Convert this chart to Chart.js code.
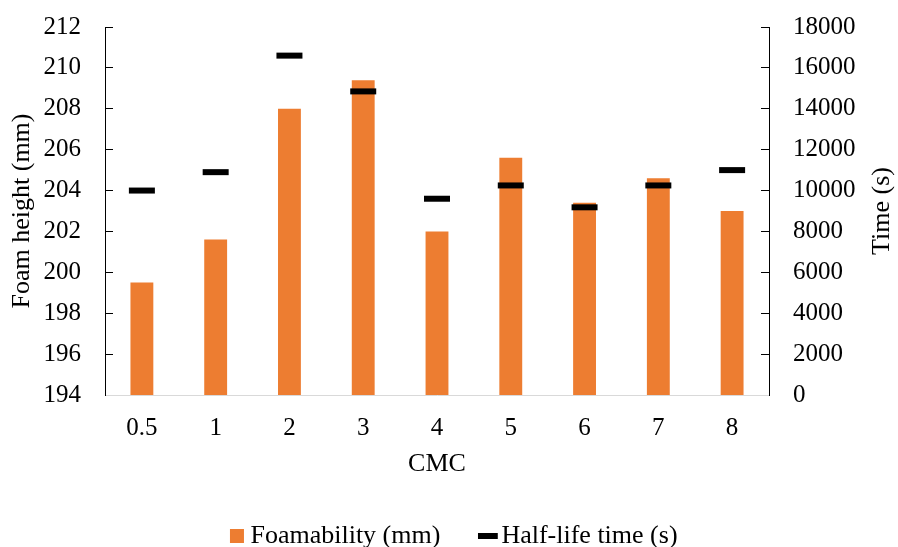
<!DOCTYPE html>
<html>
<head>
<meta charset="utf-8">
<script src="https://cdn.jsdelivr.net/npm/chart.js@4"></script>
<style>
  html, body { margin: 0; padding: 0; background: #fff; }
  #wrap { width: 898px; height: 547px; }
</style>
</head>
<body>
<div id="wrap"><canvas id="foamChart" width="898" height="547"></canvas></div>
<script>
// CMC concentrations (x categories)
const cmcLabels = ['0.5', '1', '2', '3', '4', '5', '6', '7', '8'];
// Foam height in mm (left axis)
const foamability = [199.5, 201.6, 208.0, 209.4, 202.0, 205.6, 203.4, 204.6, 203.0];
// Half-life time in s (right axis)
const halfLife = [10000, 10900, 16600, 14850, 9600, 10250, 9180, 10250, 11000];

// Axis ranges
const leftMin = 194, leftMax = 212, leftStep = 2;
const rightMin = 0, rightMax = 18000, rightStep = 2000;
const rightTitle = 'Time (s)';

Chart.defaults.font.family = "'Liberation Serif', 'Times New Roman', serif";
Chart.defaults.color = '#000';

// right axis title reads bottom-to-top like the left one, chart.js rotates it the other way
const rightTitlePlugin = {
  id: 'rightTitle',
  afterDraw(chart) {
    const c = chart.ctx;
    const area = chart.chartArea;
    c.save();
    c.translate(chart.scales.y1.right - 5, (area.top + area.bottom) / 2);
    c.rotate(-Math.PI / 2);
    c.font = "26px 'Liberation Serif', 'Times New Roman', serif";
    c.fillStyle = '#000';
    c.textAlign = 'center';
    c.textBaseline = 'middle';
    c.fillText(rightTitle, 0, 0);
    c.restore();
  }
};

// big tick padding would otherwise push the plot area down
function noVertPadding(scale) {
  scale.paddingTop = 0;
  scale.paddingBottom = 0;
}

const ctx = document.getElementById('foamChart').getContext('2d');

new Chart(ctx, {
  type: 'bar',
  data: {
    labels: cmcLabels,
    datasets: [{
      label: 'Foamability (mm)',
      data: foamability,
      backgroundColor: '#ED7D31',
      borderWidth: 0,
      categoryPercentage: 1,
      barPercentage: 0.31,
      pointStyle: 'rect',
      yAxisID: 'y',
      order: 1
    }, {
      type: 'line',
      label: 'Half-life time (s)',
      data: halfLife,
      showLine: false,
      borderColor: '#000',
      backgroundColor: '#000',
      borderWidth: 6,
      pointStyle: 'line',
      pointRadius: 13,
      pointHoverRadius: 13,
      pointBorderWidth: 6,
      pointBorderColor: '#000',
      yAxisID: 'y1',
      order: 0
    }]
  },
  options: {
    responsive: false,
    animation: false,
    layout: {
      padding: { top: 27, left: 26.5, right: 10.5, bottom: -12 }
    },
    scales: {
      x: {
        grid: { display: false, drawTicks: false },
        border: { display: true, color: '#D9D9D9', width: 1 },
        ticks: { font: { size: 25 }, padding: 18, color: '#000' },
        title: {
          display: true,
          text: 'CMC',
          font: { size: 26 },
          padding: { top: -12.6, bottom: -3.6 }
        }
      },
      y: {
        position: 'left',
        min: leftMin,
        max: leftMax,
        afterFit: noVertPadding,
        ticks: { stepSize: leftStep, font: { size: 25 }, padding: 32, color: '#000' },
        grid: { drawOnChartArea: false, tickLength: -8, tickColor: '#000' },
        border: { color: '#000', width: 1 },
        title: {
          display: true,
          text: 'Foam height (mm)',
          font: { size: 26 },
          padding: { top: -20.1, bottom: -26.1 }
        }
      },
      y1: {
        position: 'right',
        min: rightMin,
        max: rightMax,
        afterFit: noVertPadding,
        ticks: {
          stepSize: rightStep,
          font: { size: 25 },
          padding: 32,
          color: '#000',
          callback: (v) => String(v)
        },
        grid: { drawOnChartArea: false, tickLength: -8, tickColor: '#000' },
        border: { color: '#000', width: 1 },
        title: { display: false }
      }
    },
    plugins: {
      legend: {
        position: 'bottom',
        labels: {
          usePointStyle: true,
          boxWidth: 1,
          boxHeight: 14,
          padding: 47,
          font: { size: 26 },
          color: '#000',
          sort: (a, b) => a.datasetIndex - b.datasetIndex
        }
      },
      tooltip: { enabled: false }
    }
  },
  plugins: [rightTitlePlugin]
});
</script>
</body>
</html>
